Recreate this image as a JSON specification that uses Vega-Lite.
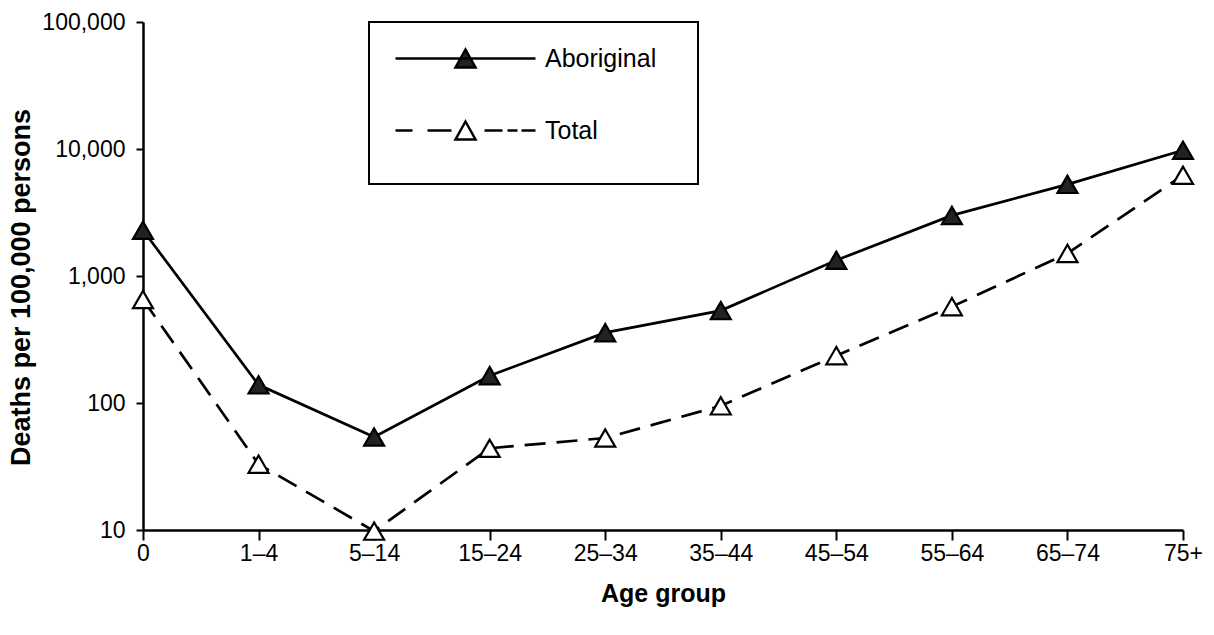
{
  "$schema": "https://vega.github.io/schema/vega-lite/v6.json",
  "width": 1040,
  "height": 508,
  "autosize": "none",
  "padding": {"left": 143, "top": 22, "right": 31, "bottom": 105},
  "background": "white",
  "data": {
    "values": [
      {"age": "0", "series": "Aboriginal", "deaths": 2290},
      {"age": "1–4", "series": "Aboriginal", "deaths": 139},
      {"age": "5–14", "series": "Aboriginal", "deaths": 54},
      {"age": "15–24", "series": "Aboriginal", "deaths": 164},
      {"age": "25–34", "series": "Aboriginal", "deaths": 358},
      {"age": "35–44", "series": "Aboriginal", "deaths": 534},
      {"age": "45–54", "series": "Aboriginal", "deaths": 1330},
      {"age": "55–64", "series": "Aboriginal", "deaths": 3000},
      {"age": "65–74", "series": "Aboriginal", "deaths": 5270},
      {"age": "75+", "series": "Aboriginal", "deaths": 9770},
      {"age": "0", "series": "Total", "deaths": 653},
      {"age": "1–4", "series": "Total", "deaths": 33},
      {"age": "5–14", "series": "Total", "deaths": 9.8},
      {"age": "15–24", "series": "Total", "deaths": 44},
      {"age": "25–34", "series": "Total", "deaths": 53},
      {"age": "35–44", "series": "Total", "deaths": 95},
      {"age": "45–54", "series": "Total", "deaths": 236},
      {"age": "55–64", "series": "Total", "deaths": 574},
      {"age": "65–74", "series": "Total", "deaths": 1506},
      {"age": "75+", "series": "Total", "deaths": 6210}
    ]
  },
  "encoding": {
    "x": {
      "field": "age",
      "type": "ordinal",
      "sort": ["0", "1–4", "5–14", "15–24", "25–34", "35–44", "45–54", "55–64", "65–74", "75+"],
      "scale": {"type": "point", "padding": 0},
      "axis": {
        "title": "Age group",
        "labelAngle": 0,
        "tickSize": 10,
        "labelPadding": 2,
        "titlePadding": 16,
        "titleFontSize": 25,
        "encode": {"ticks": {"y": {"value": -9}}}
      }
    },
    "y": {
      "field": "deaths",
      "type": "quantitative",
      "scale": {"type": "log", "domain": [10, 100000], "nice": false},
      "axis": {
        "title": "Deaths per 100,000 persons",
        "values": [10, 100, 1000, 10000, 100000],
        "format": ",",
        "tickSize": 7,
        "labelPadding": 11,
        "titlePadding": 6,
        "titleFontSize": 27,
        "titleY": 265,
        "encode": {"ticks": {"x": {"value": 12}}}
      }
    }
  },
  "layer": [
    {
      "transform": [{"filter": "datum.series === 'Aboriginal'"}],
      "mark": {"type": "line", "strokeWidth": 2.7},
      "encoding": {
        "color": {
          "field": "series",
          "type": "nominal",
          "scale": {"domain": ["Aboriginal", "Total"], "range": ["black", "black"]},
          "legend": {
            "title": null,
            "orient": "none",
            "legendX": 226,
            "legendY": 0,
            "padding": 24,
            "rowPadding": 43,
            "strokeColor": "black",
            "fillColor": "white",
            "symbolSize": 400,
            "symbolOffset": 60,
            "symbolStrokeWidth": 2.5,
            "labelFont": "Liberation Sans",
            "labelFontSize": 25,
            "labelColor": "black",
            "labelOffset": 67,
            "encode": {
              "legend": {"update": {"strokeWidth": {"value": 2}}},
              "symbols": {
                "update": {
                  "shape": [
                    {"test": "datum.value === 'Aboriginal'", "value": "M-7,0H7M0,-0.9L1,0.9L-1,0.9ZM20.3,0"},
                    {"value": "M-7,0H-5.3M-3.8,0H-1.4M1.9,0H3.7M4.2,0H5.2M5.6,0H7M0,-0.9L1,0.9L-1,0.9ZM20.3,2.4"}
                  ],
                  "fill": [
                    {"test": "datum.value === 'Aboriginal'", "value": "#222222"},
                    {"value": "white"}
                  ],
                  "stroke": {"value": "black"},
                  "strokeWidth": {"value": 2.5},
                  "opacity": {"value": 1}
                }
              }
            }
          }
        }
      }
    },
    {
      "transform": [{"filter": "datum.series === 'Total'"}],
      "mark": {"type": "line", "color": "black", "strokeWidth": 2.7, "strokeDash": [21, 11]}
    },
    {
      "transform": [{"filter": "datum.series === 'Aboriginal'"}],
      "mark": {"type": "point", "shape": "triangle-up", "size": 400, "filled": true, "fill": "#222222", "stroke": "black", "strokeWidth": 2.2, "opacity": 1}
    },
    {
      "transform": [{"filter": "datum.series === 'Total'"}],
      "mark": {"type": "point", "shape": "triangle-up", "size": 400, "filled": true, "fill": "white", "stroke": "black", "strokeWidth": 2.2, "opacity": 1}
    }
  ],
  "config": {
    "view": {"stroke": null},
    "font": "Liberation Sans",
    "legend": {"strokeWidth": 2},
    "axis": {
      "grid": false,
      "domainColor": "black",
      "domainWidth": 2.5,
      "tickColor": "black",
      "tickWidth": 2,
      "labelFont": "Liberation Sans",
      "labelFontSize": 23,
      "labelColor": "black",
      "titleFont": "Liberation Sans",
      "titleFontWeight": "bold",
      "titleColor": "black"
    }
  }
}
